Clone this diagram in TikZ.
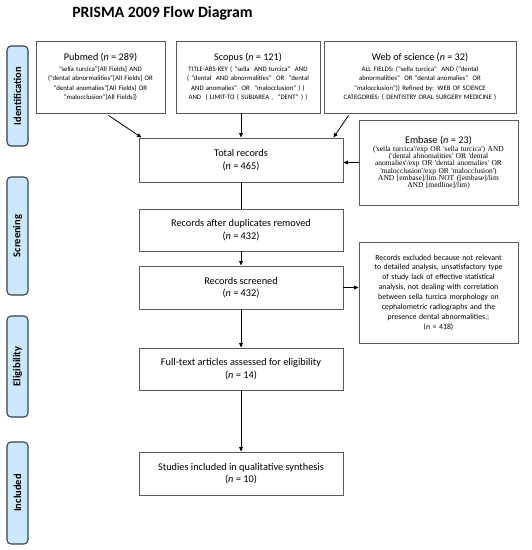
\documentclass[tikz,border=0pt]{standalone}
\usepackage{fontspec}
\setmainfont{Carlito}
\newfontfamily\serifemb{Liberation Serif}
\usetikzlibrary{calc,arrows.meta}
\definecolor{barblue}{RGB}{204,232,251}
\definecolor{boxgray}{RGB}{90,90,90}
\definecolor{bardark}{RGB}{55,65,75}
\newcommand{\hdr}[1]{{\fontsize{10.2}{12}\selectfont #1\par}\vspace{1pt}}
\begin{document}
\begin{tikzpicture}[x=1pt,y=-1pt,
  box/.style={draw=boxgray,line width=0.9pt,fill=white,align=center,inner sep=1pt,anchor=center},
  srcbox/.style={box,font=\fontsize{6.8}{9.5}\selectfont},
  mainbox/.style={box,minimum width=204pt,font=\fontsize{10.3}{12.3}\selectfont},
  bar/.style={draw=bardark,line width=1.1pt,fill=barblue,rounded corners=4pt,minimum width=21pt,anchor=center,inner sep=0pt},
  bartext/.style={rotate=90,font=\bfseries\fontsize{10.5}{11}\selectfont},
  arr/.style={-{Triangle[length=4.5pt,width=3.8pt]},line width=0.8pt,black},
  plain/.style={line width=0.8pt,black}]
\useasboundingbox (0,0) rectangle (532,550);
\node[font=\bfseries\fontsize{15.7}{18}\selectfont] (title) at (162.5,13) {PRISMA 2009 Flow Diagram};
% side bars
\node[bar,minimum height=100pt] (bid) at (17.5,96) {};
\node[bartext] (tid) at (bid.center) {Identification};
\node[bar,minimum height=118pt] (bsc) at (17.5,236) {};
\node[bartext] (tsc) at (bsc.center) {Screening};
\node[bar,minimum height=101pt] (bel) at (17.5,366.5) {};
\node[bartext] (tel) at (bel.center) {Eligibility};
\node[bar,minimum height=102pt] (bin) at (17.5,493) {};
\node[bartext] (tin) at (bin.center) {Included};
% source boxes
\node[srcbox,minimum width=129pt,minimum height=72pt,text width=126pt] (pubmed) at (100.5,77) {\hdr{Pubmed (\textit{n} = 289)}
"sella turcica"[All Fields] AND\\("dental abnormalities"[All Fields] OR\\"dental anomalies"[All Fields] OR\\"malocclusion"[All Fields])\par\vspace{8pt}};
\node[srcbox,minimum width=144pt,minimum height=72pt,text width=141pt] (scopus) at (248,77) {\hdr{Scopus (\textit{n} = 121)}
TITLE-ABS-KEY ( “sella~ AND turcica”~ AND\\( “dental~ AND abnormalities”~ OR~ “dental\\AND anomalies”~ OR~ “malocclusion” ) )\\AND~ ( LIMIT-TO ( SUBJAREA ,~ “DENT” ) )\par\vspace{8pt}};
\node[srcbox,minimum width=192pt,minimum height=72pt,text width=189pt] (wos) at (420,77) {\hdr{Web of science (\textit{n} = 32)}
ALL FIELDS: (“sella turcica”~ AND (“dental\\abnormalities”~ OR “dental anomalies”~ OR\\“malocclusion”)) Refined by: WEB OF SCIENCE\\CATEGORIES: ( DENTISTRY ORAL SURGERY MEDICINE )\par\vspace{8pt}};
\node[box,font=\serifemb\fontsize{7.5}{7.1}\selectfont,minimum width=159pt,minimum height=85pt,text width=156pt] (embase) at (438.5,162.5) {{\rmfamily\hdr{Embase (\textit{n} = 23)}}
('sella turcica'/exp OR 'sella turcica') AND\\('dental abnomalities' OR 'dental\\anomalies'/exp OR 'dental anomalies' OR\\'malocclusion'/exp OR 'malocclusion')\\AND [embase]/lim NOT ([embase]/lim\\AND [medline]/lim)\par\vspace{10pt}};
% main column
\node[mainbox,minimum height=44pt] (total) at (241,160) {Total records\\(\textit{n} = 465)};
\node[mainbox,minimum height=42pt] (dup) at (241,230) {Records after duplicates removed\\(\textit{n} = 432)};
\node[mainbox,minimum height=43pt] (screened) at (241,287.5) {Records screened\\(\textit{n} = 432)};
\node[box,minimum width=159pt,minimum height=101pt,text width=156pt,font=\fontsize{7.8}{9.9}\selectfont] (excl) at (438.5,292.5) {Records excluded because not relevant\\to detailed analysis, unsatisfactory type\\of study lack of effective statistical\\analysis, not dealing with correlation\\between sella turcica morphology on\\cephalometric radiographs and the\\presence dental abnormalities.;\\(\textit{n} = 418)\par\vspace{6pt}};
\node[mainbox,minimum height=42pt] (full) at (241,369) {Full-text articles assessed for eligibility\\(\textit{n} = 14)};
\node[mainbox,minimum height=43pt] (studies) at (241,473.5) {Studies included in qualitative synthesis\\(\textit{n} = 10)};
% connectors
\draw[arr] ($(pubmed.south west)+(73,2)$) -- ($(total.north west)+(3,0)$);
\draw[arr] (scopus.south -| total.north) -- (total.north);
\draw[arr] ($(wos.south west)+(25,2)$) -- ($(total.north east)+(-10,0)$);
\draw[arr] (embase.west) -- (embase.west -| total.east);
\draw[plain] (total.south) -- (dup.north);
\draw[arr] (dup.south) -- (screened.north);
\draw[arr] (screened.east) -- (screened.east -| excl.west);
\draw[arr] (screened.south) -- (full.north);
\draw[arr] (full.south) -- (studies.north);
\end{tikzpicture}
\end{document}
